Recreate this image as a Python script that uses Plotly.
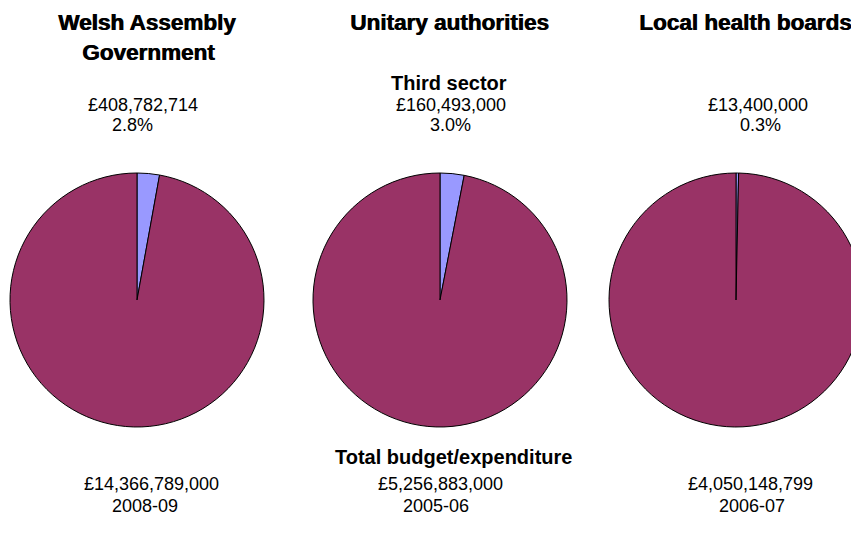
import plotly.graph_objects as go

# ---- data ----
organisations = ["Welsh Assembly Government", "Unitary authorities", "Local health boards"]
third_sector = [408782714, 160493000, 13400000]
total_budget = [14366789000, 5256883000, 4050148799]
third_sector_labels = ["£408,782,714", "£160,493,000", "£13,400,000"]
third_sector_pct = ["2.8%", "3.0%", "0.3%"]
total_labels = ["£14,366,789,000", "£5,256,883,000", "£4,050,148,799"]
years = ["2008-09", "2005-06", "2006-07"]
slice_names = ["Third sector", "Other"]
slice_colors = ["#9999FF", "#993366"]

# ---- layout geometry (pixels) ----
W, H = 880, 535
centers_x = [137, 440, 736]
center_y = 300
R = 127

def px(x):
    return x / W

def py(y):
    return (H - y) / H

fig = go.Figure()
for i, name in enumerate(organisations):
    rest = total_budget[i] - third_sector[i]
    cx = centers_x[i]
    fig.add_trace(go.Pie(
        labels=slice_names,
        values=[third_sector[i], rest],
        sort=False,
        direction="clockwise",
        rotation=0,
        textinfo="none",
        hoverinfo="skip",
        marker=dict(colors=slice_colors, line=dict(color="#000000", width=1)),
        domain=dict(x=[px(cx - R), px(cx + R)], y=[py(center_y + R), py(center_y - R)]),
        showlegend=False,
        name=name,
    ))

title_font = dict(family="Liberation Sans, Arial, sans-serif", size=22.5, color="#000000",
                  shadow="0.8px 0px 0px #000000")
body_font = dict(family="Liberation Sans, Arial, sans-serif", size=18, color="#000000")
bold_font = dict(family="Liberation Sans, Arial, sans-serif", size=20, color="#000000")

ann = []
def add(text, x, y, font, xanchor="center"):
    ann.append(dict(text=text, x=px(x), y=py(y), xref="paper", yref="paper",
                    xanchor=xanchor, yanchor="middle", showarrow=False, font=font))

# titles
add("<b>Welsh Assembly</b>", 147, 23, title_font)
add("<b>Government</b>", 148, 52, title_font)
add("<b>Unitary authorities</b>", 449, 23, title_font)
add("<b>Local health boards</b>", 637, 23, title_font, xanchor="left")

# top labels
add("<b>Third sector</b>", 449, 83, bold_font)
top_x = [143, 451, 758]
pct_x = [132, 451, 760]
for i in range(3):
    add(third_sector_labels[i], top_x[i], 105, body_font)
    add(third_sector_pct[i], pct_x[i], 125, body_font)

# bottom labels
add("<b>Total budget/expenditure</b>", 454, 457, bold_font)
bot_x = [151, 440, 750]
yr_x = [145, 436, 752]
for i in range(3):
    add(total_labels[i], bot_x[i], 484, body_font)
    add(years[i], yr_x[i], 506, body_font)

fig.update_layout(
    width=W, height=H,
    margin=dict(l=0, r=0, t=0, b=0),
    paper_bgcolor="#FFFFFF",
    plot_bgcolor="#FFFFFF",
    annotations=ann,
)

post = ("document.documentElement.style.overflow='hidden';"
        "document.body.style.overflow='hidden';"
        "document.body.style.margin='0';")
fig.write_html("out.html", post_script=post, config={"displayModeBar": False})
